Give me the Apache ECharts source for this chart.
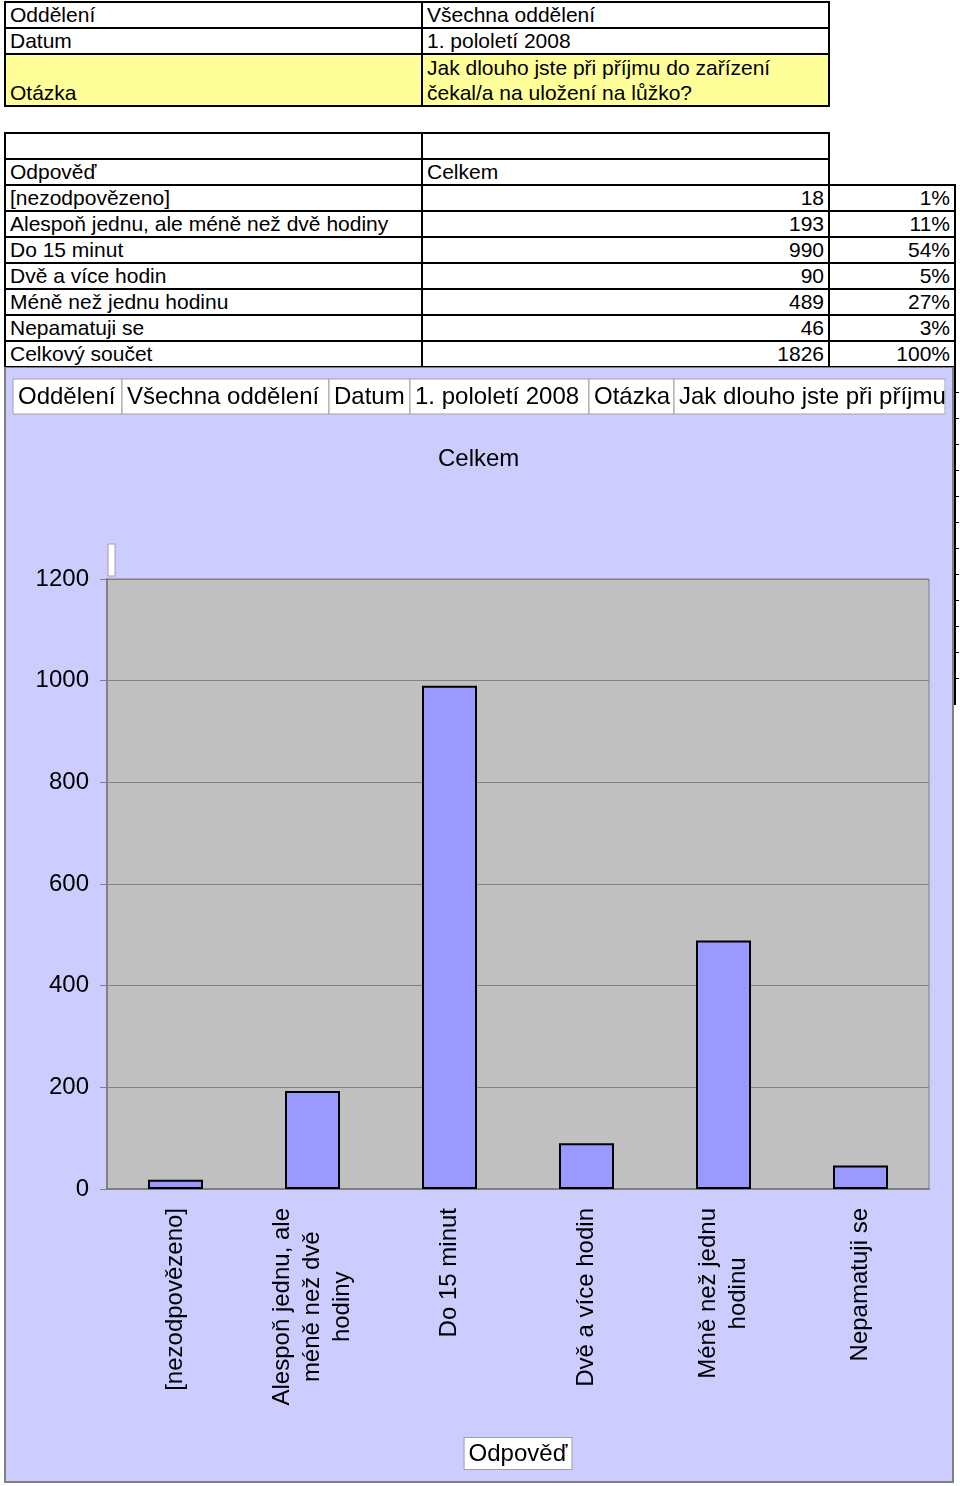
<!DOCTYPE html>
<html lang="cs">
<head>
    <meta charset="UTF-8">
    <title>Jak dlouho jste při příjmu do zařízení čekal/a na uložení na lůžko?</title>
    <style>
        * {
        margin: 0;
        padding: 0;
        }
        body {
        position: relative;
        width: 960px;
        height: 1486px;
        overflow: hidden;
        background: #fff;
        font-family: "Liberation Sans", Arial, sans-serif;
        }
        .cell {
        position: absolute;
        box-sizing: border-box;
        border: 2px solid #000;
        font-size: 21px;
        line-height: 24px;
        padding: 0 4px;
        white-space: nowrap;
        overflow: hidden;
        color: #000;
        background: #fff;
        }
        .num { text-align: right; }
        .yellow { background: #ffff99; }
        .bottom { display: flex; align-items: flex-end; line-height: 25px; }
        .grid-frag { position: absolute; background: #000; }
        #chart-container {
        position: absolute;
        left: 0;
        top: 367px;
        width: 954px;
        height: 1119px;
        }
    </style>
</head>
<body>
    <div id="sheet"></div>
    <div id="chart-container"></div>
    <script src="https://cdn.jsdelivr.net/npm/echarts@6.0.0/dist/echarts.min.js"></script>
    <script>
        // page fields of the pivot
        var fieldNames = ['Oddělení', 'Datum', 'Otázka'];
        var fieldValues = ['Všechna oddělení', '1. pololetí 2008',
            'Jak dlouho jste při příjmu do zařízení\nčekal/a na uložení na lůžko?'];

        // answers and counts
        var answers = [
            '[nezodpovězeno]',
            'Alespoň jednu, ale méně než dvě hodiny',
            'Do 15 minut',
            'Dvě a více hodin',
            'Méně než jednu hodinu',
            'Nepamatuji se'
        ];
        var axisLabels = [
            '[nezodpovězeno]',
            'Alespoň jednu, ale\nméně než dvě\nhodiny',
            'Do 15 minut',
            'Dvě a více hodin',
            'Méně než jednu\nhodinu',
            'Nepamatuji se'
        ];
        var counts = [18, 193, 990, 90, 489, 46];
        var yTicks = [0, 1200, 200];   // min, max, interval

        var total = counts.reduce(function (a, b) { return a + b; }, 0);

        // ---- spreadsheet part ----
        var sheet = document.getElementById('sheet');
        function cell(x0, x1, y0, y1, text, cls) {
            var d = document.createElement('div');
            d.className = 'cell' + (cls ? ' ' + cls : '');
            d.style.left = (x0 - 1) + 'px';
            d.style.top = (y0 - 1) + 'px';
            d.style.width = (x1 - x0 + 2) + 'px';
            d.style.height = (y1 - y0 + 2) + 'px';
            if (text.indexOf('\n') >= 0) {
                d.innerHTML = text.split('\n').join('<br>');
                d.style.lineHeight = '25px';
            } else {
                d.textContent = text;
            }
            sheet.appendChild(d);
        }
        var colX = [5, 422, 829, 955];

        // top table
        var topRows = [2, 28, 54, 106];
        fieldNames.forEach(function (name, i) {
            var last = i === fieldNames.length - 1;
            cell(colX[0], colX[1], topRows[i], topRows[i + 1], name, last ? 'yellow bottom' : '');
            cell(colX[1], colX[2], topRows[i], topRows[i + 1], fieldValues[i], last ? 'yellow' : '');
        });

        // data table
        var rowH = 26;
        var y = 133;
        cell(colX[0], colX[1], y, y + rowH, '');
        cell(colX[1], colX[2], y, y + rowH, '');
        y += rowH;
        cell(colX[0], colX[1], y, y + rowH, 'Odpověď');
        cell(colX[1], colX[2], y, y + rowH, 'Celkem');
        y += rowH;
        answers.forEach(function (a, i) {
            cell(colX[0], colX[1], y, y + rowH, a);
            cell(colX[1], colX[2], y, y + rowH, String(counts[i]), 'num');
            cell(colX[2], colX[3], y, y + rowH, Math.round(counts[i] / total * 100) + '%', 'num');
            y += rowH;
        });
        cell(colX[0], colX[1], y, y + rowH, 'Celkový součet');
        cell(colX[1], colX[2], y, y + rowH, String(total), 'num');
        cell(colX[2], colX[3], y, y + rowH, '100%', 'num');

        // sheet grid peeking out right of the chart
        function frag(l, t, w, h) {
            var d = document.createElement('div');
            d.className = 'grid-frag';
            d.style.left = l + 'px'; d.style.top = t + 'px';
            d.style.width = w + 'px'; d.style.height = h + 'px';
            sheet.appendChild(d);
        }
        frag(954, 367, 2, 338);
        for (var ty = 392; ty < 700; ty += 26) frag(954, ty, 5, 1);

        // ---- chart part ----
        var font = '"Liberation Sans", Arial, sans-serif';
        var dom = document.getElementById('chart-container');
        var myChart = echarts.init(dom, null, { renderer: 'canvas' });

        // pivot field buttons (the last one runs past the chart edge and is clipped)
        var btnTexts = ['Oddělení', 'Všechna oddělení', 'Datum', '1. pololetí 2008', 'Otázka',
            'Jak dlouho jste při příjmu do zařízení čekal/a na uložení na lůžko?'];
        var btnX = [13, 122, 329, 410, 589, 674, 945];
        var buttons = [];
        btnTexts.forEach(function (t, i) {
            buttons.push({
                type: 'rect',
                shape: { x: btnX[i], y: 12, width: btnX[i + 1] - btnX[i], height: 35 },
                style: { fill: '#fff', stroke: '#a0a0a0', lineWidth: 1 }
            });
            buttons.push({
                type: 'text',
                x: btnX[i] + 5,
                y: 30,
                style: {
                    text: t,
                    fontSize: 24,
                    fontFamily: font,
                    fill: '#000',
                    verticalAlign: 'middle'
                }
            });
        });
        // strip of chart background covering the overflow
        buttons.push({
            type: 'rect',
            z: 10,
            shape: { x: 945.5, y: 10, width: 20, height: 40 },
            style: { fill: '#ccccff' }
        });

        var option = {
            animation: false,
            textStyle: { fontFamily: font, color: '#000' },
            title: {
                text: 'Celkem',
                left: 438,
                top: 80,
                padding: 0,
                textStyle: { fontSize: 24, fontWeight: 'normal', color: '#000', fontFamily: font }
            },
            graphic: [
                {
                    type: 'rect',
                    z: -10,
                    shape: { x: 5, y: 0, width: 948, height: 1115 },
                    style: { fill: '#ccccff', stroke: '#808080', lineWidth: 2 }
                },
                {
                    type: 'rect',
                    shape: { x: 108, y: 177, width: 7, height: 32 },
                    style: { fill: '#fff', stroke: '#a0a0a0', lineWidth: 1 }
                }
            ].concat(buttons).concat([
                {
                    type: 'line',
                    z: 11,
                    shape: { x1: 953, y1: 0, x2: 953, y2: 1115 },
                    style: { stroke: '#808080', lineWidth: 2 }
                }
            ]),
            grid: {
                left: 107,
                right: 25,
                top: 212,
                bottom: 297,
                show: true,
                backgroundColor: '#c0c0c0',
                borderColor: '#808080',
                borderWidth: 1
            },
            xAxis: {
                type: 'category',
                data: axisLabels,
                name: 'Odpověď',
                nameLocation: 'middle',
                nameGap: 249,
                nameTextStyle: {
                    fontSize: 24,
                    color: '#000',
                    backgroundColor: '#fff',
                    borderColor: '#a0a0a0',
                    borderWidth: 1,
                    padding: [4, 4, 3, 4]
                },
                axisLine: { lineStyle: { color: '#808080', width: 2 } },
                axisTick: { length: 8, lineStyle: { color: '#808080' } },
                axisLabel: {
                    interval: 0,
                    rotate: 90,
                    margin: 19,
                    formatter: function (v) {
                        return v.split('\n').map(function (l) { return '{c|' + l + '}'; }).join('\n');
                    },
                    rich: {
                        c: { fontSize: 24, lineHeight: 30, align: 'center', color: '#000', fontFamily: font }
                    }
                }
            },
            yAxis: {
                type: 'value',
                min: yTicks[0],
                max: yTicks[1],
                interval: yTicks[2],
                axisLine: { show: true, lineStyle: { color: '#808080', width: 2 } },
                axisTick: { show: true, length: 7, lineStyle: { color: '#808080' } },
                axisLabel: {
                    fontSize: 24,
                    color: '#000',
                    margin: 18,
                    formatter: function (v) { return String(v); }
                },
                splitLine: { lineStyle: { color: '#808080', width: 1 } }
            },
            series: [
                {
                    type: 'bar',
                    data: counts,
                    barWidth: 55,
                    itemStyle: { color: '#9999ff', borderColor: '#000', borderWidth: 2 }
                }
            ]
        };

        myChart.setOption(option);
    </script>
</body>
</html>
